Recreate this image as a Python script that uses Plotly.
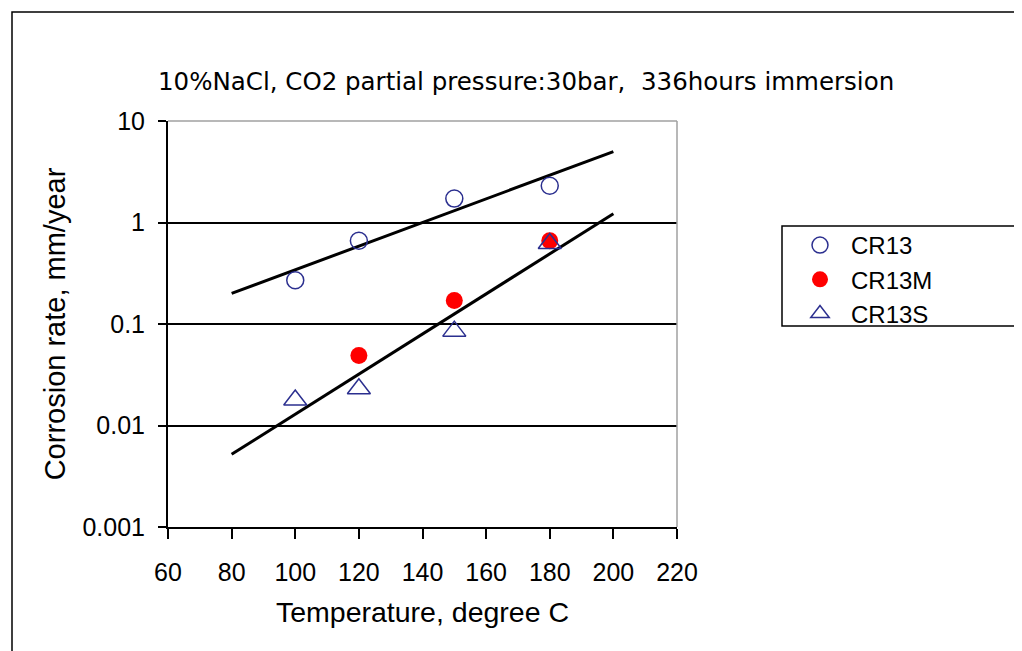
import plotly.graph_objects as go

# Data
temps = [100, 120, 150, 180]
cr13 = [0.27, 0.66, 1.72, 2.3]
cr13m_t = [120, 150, 180]
cr13m = [0.049, 0.17, 0.66]
cr13s = [0.0178, 0.023, 0.085, 0.62]

trend_x = [80, 200]
trend_upper = [0.20, 5.0]
trend_lower = [0.0052, 1.22]

x_ticks = [60, 80, 100, 120, 140, 160, 180, 200, 220]
y_ticks = [0.001, 0.01, 0.1, 1, 10]
y_tick_text = ["0.001", "0.01", "0.1", "1", "10"]

FONT = "Liberation Sans, Arial, sans-serif"
WIDE = "DejaVu Sans, Liberation Sans, sans-serif"
NAVY = "#2B2F8F"

fig = go.Figure()

fig.add_trace(go.Scatter(x=trend_x, y=trend_upper, mode="lines",
                         line=dict(color="black", width=3), showlegend=False, hoverinfo="skip"))
fig.add_trace(go.Scatter(x=trend_x, y=trend_lower, mode="lines",
                         line=dict(color="black", width=3), showlegend=False, hoverinfo="skip"))

fig.add_trace(go.Scatter(x=temps, y=cr13, mode="markers", name="CR13", legendgroup="a",
                         marker=dict(symbol="circle-open", size=17, color=NAVY, line=dict(width=1.5, color=NAVY))))
fig.add_trace(go.Scatter(x=cr13m_t, y=cr13m, mode="markers", name="CR13M", legendgroup="b",
                         marker=dict(symbol="circle", size=17, color="#FF0000")))
fig.add_trace(go.Scatter(x=temps, y=cr13s, mode="markers", name="CR13S", legendgroup="c",
                         marker=dict(symbol="triangle-up-open", size=20, color=NAVY, line=dict(width=1.5, color=NAVY))))

OFF = 8  # browser body margin
W, H = 1022 - OFF, 651 - OFF
L, R, T, B = 168, 677, 121, 527
pw, ph = R - L, B - T

def px(xp):
    return (xp - L) / pw

def py(yp):
    return (B - yp) / ph

fig.update_layout(
    width=W, height=H,
    margin=dict(l=L - OFF, r=W - (R - OFF), t=T - OFF, b=H - (B - OFF)),
    paper_bgcolor="white", plot_bgcolor="white",
    font=dict(family=FONT, color="black", size=22),
    showlegend=True,
    legend=dict(x=px(789), y=py(223), xanchor="left", yanchor="top",
                bgcolor="rgba(0,0,0,0)", borderwidth=0,
                font=dict(size=24, family=FONT), tracegroupgap=0,
                traceorder="grouped", itemwidth=52),
    xaxis=dict(type="linear", range=[60, 220], tickvals=x_ticks,
               showgrid=False, zeroline=False,
               showline=True, linecolor="black", linewidth=2,
               ticks="outside", ticklen=10, tickwidth=1.5, tickcolor="black",
               ticklabelstandoff=12,
               tickfont=dict(size=25, family=FONT),
               title=dict(text="Temperature, degree C", font=dict(size=28.5, family=FONT), standoff=17)),
    yaxis=dict(type="log", range=[-3, 1], tickvals=y_ticks, ticktext=y_tick_text,
               showgrid=True, gridcolor="black", gridwidth=1.5, zeroline=False,
               showline=True, linecolor="black", linewidth=2,
               ticks="outside", ticklen=8, tickwidth=1.5, tickcolor="black",
               ticklabelstandoff=8,
               tickfont=dict(size=25, family=FONT),
               title=dict(text="Corrosion rate, mm/year", font=dict(size=29, family=FONT), standoff=8)),
    shapes=[
        dict(type="rect", xref="paper", yref="paper", x0=px(12), y0=py(700), x1=px(1040), y1=py(12),
             line=dict(color="black", width=1.5), fillcolor="rgba(0,0,0,0)", layer="below"),
        dict(type="line", xref="paper", yref="paper", x0=0, x1=1, y0=1, y1=1,
             line=dict(color="#A0A0A0", width=1.5), layer="above"),
        dict(type="line", xref="paper", yref="paper", x0=1, x1=1, y0=0, y1=1,
             line=dict(color="#A0A0A0", width=1.5), layer="above"),
        dict(type="rect", xref="paper", yref="paper", x0=px(782), y0=py(326), x1=px(1040), y1=py(226),
             line=dict(color="black", width=1.5), fillcolor="rgba(0,0,0,0)"),
    ],
    annotations=[
        dict(text="10%NaCl, CO2 partial pressure:30bar,  336hours immersion",
             xref="paper", yref="paper", x=px(526), y=py(82), xanchor="center", yanchor="middle",
             showarrow=False, font=dict(size=24.5, family=WIDE)),
    ],
)

fig.write_html("out.html")
